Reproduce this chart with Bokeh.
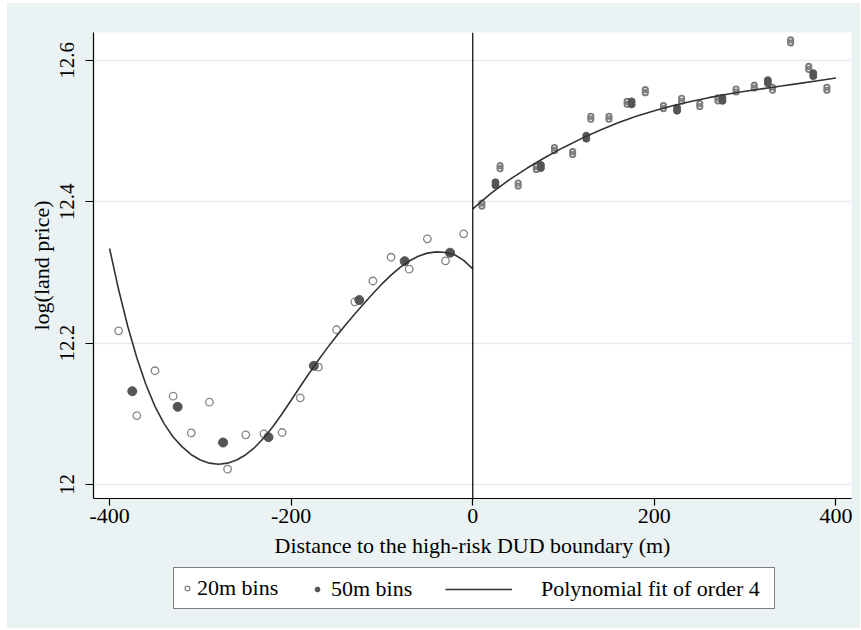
from bokeh.plotting import figure
from bokeh.layouts import column
from bokeh.models import Range1d, Span, Legend, LegendItem, FixedTicker, ColumnDataSource
from bokeh.transform import dodge
from bokeh.embed import file_html
from bokeh.resources import INLINE

# ---- data ----
bin20_x_left = [-390, -370, -350, -330, -310, -290, -270, -250, -230, -210,
                -190, -170, -150, -130, -110, -90, -70, -50, -30, -10]
bin20_y_left = [12.2175, 12.0976, 12.161, 12.125, 12.073, 12.1165, 12.0217, 12.0703, 12.0717, 12.0736,
                12.1227, 12.166, 12.219, 12.2585, 12.288, 12.3216, 12.3047, 12.3477, 12.3165, 12.3547]
bin20_x_right = [10, 30, 50, 70, 90, 110, 130, 150, 170, 190,
                 210, 230, 250, 270, 290, 310, 330, 350, 370, 390]
bin20_y_right = [12.396, 12.449, 12.4245, 12.448, 12.4745, 12.469, 12.519, 12.519, 12.540, 12.5566,
                 12.534, 12.5444, 12.537, 12.545, 12.5575, 12.563, 12.56, 12.627, 12.5896, 12.56]

bin50_x_left = [-375, -325, -275, -225, -175, -125, -75, -25]
bin50_y_left = [12.132, 12.110, 12.0594, 12.067, 12.168, 12.261, 12.316, 12.328]
bin50_x_right = [25, 75, 125, 175, 225, 275, 325, 375]
bin50_y_right = [12.4255, 12.45, 12.4915, 12.540, 12.531, 12.545, 12.570, 12.580]

# fitted curves, every 10 m (left) / 20 m (right)
fit_x_left = [-400, -390, -380, -370, -360, -350, -340, -330, -320, -310, -300, -290, -280,
              -270, -260, -250, -240, -230, -220, -210, -200, -190, -180, -170, -160, -150,
              -140, -130, -120, -110, -100, -90, -80, -70, -60, -50, -40, -30, -20, -10, 0]
fit_y_left = [12.334, 12.2755, 12.224, 12.1795, 12.1415, 12.1105, 12.0862, 12.0672, 12.0532, 12.0422,
              12.0347, 12.0302, 12.0287, 12.0302, 12.0347, 12.0422, 12.0527, 12.0662, 12.0822, 12.1002,
              12.1193, 12.1387, 12.1578, 12.1762, 12.1937, 12.2102, 12.226, 12.2413, 12.2558, 12.2703,
              12.2838, 12.2963, 12.3073, 12.3163, 12.3231, 12.3274, 12.3292, 12.3284, 12.3251, 12.3171,
              12.3051]
fit_x_right = [0, 20, 40, 60, 80, 100, 120, 140, 160, 180, 200,
               220, 240, 260, 280, 300, 320, 340, 360, 380, 400]
fit_y_right = [12.390, 12.412, 12.431, 12.4478, 12.463, 12.477, 12.4898, 12.5014, 12.5118, 12.521, 12.529,
               12.536, 12.542, 12.5474, 12.5522, 12.5564, 12.5602, 12.5638, 12.5676, 12.5714, 12.5752]

x_ticks = [-400, -200, 0, 200, 400]
x_tick_labels = ["-400", "-200", "0", "200", "400"]
y_ticks = [12.0, 12.2, 12.4, 12.6]
y_tick_labels = ["12", "12.2", "12.4", "12.6"]

FONT = "Liberation Serif"
FS = "22px"
BG = "#EAF2F3"

# ---------------- main plot ----------------
p = figure(width=853, height=562,
           x_range=Range1d(-417.7, 417.1), y_range=Range1d(11.9802, 12.6396),
           output_backend="svg", toolbar_location=None,
           min_border_left=86, min_border_right=9, min_border_top=29, min_border_bottom=67,
           background_fill_color="white", border_fill_color=BG, outline_line_color=None)
p.margin = 0

p.xgrid.visible = False
p.ygrid.ticker = FixedTicker(ticks=y_ticks)
p.ygrid.grid_line_color = "#E2EBEE"
p.ygrid.grid_line_width = 1.5

p.xaxis.ticker = FixedTicker(ticks=x_ticks)
p.yaxis.ticker = FixedTicker(ticks=y_ticks)
p.xaxis.major_label_overrides = {t: l for t, l in zip(x_ticks, x_tick_labels)}
p.yaxis.major_label_overrides = {t: l for t, l in zip(y_ticks, y_tick_labels)}
for ax in (p.xaxis, p.yaxis):
    ax.minor_tick_line_color = None
    ax.major_tick_in = 0
    ax.axis_line_color = "black"
    ax.axis_line_width = 1.2
    ax.major_tick_line_color = "black"
    ax.major_tick_line_width = 1.2
    ax.major_label_text_font = FONT
    ax.major_label_text_font_size = FS
    ax.major_label_text_color = "black"
    ax.axis_label_text_font = FONT
    ax.axis_label_text_font_size = FS
    ax.axis_label_text_font_style = "normal"
    ax.axis_label_text_color = "black"
p.yaxis.major_label_text_font_size = "21px"
p.xaxis.major_tick_out = 7
p.yaxis.major_tick_out = 8
p.xaxis.major_label_standoff = 3
p.yaxis.major_label_standoff = 11
p.yaxis.major_label_orientation = "vertical"
p.xaxis.axis_label = "Distance to the high-risk DUD boundary (m)"
p.yaxis.axis_label = "log(land price)"
p.xaxis.axis_label_standoff = 7
p.yaxis.axis_label_standoff = 4

p.add_layout(Span(location=0, dimension="height", line_color="black", line_width=1.2))

style20 = dict(fill_color="white", line_color="#858585", line_width=1.3)
style50 = dict(fill_color="#555555", line_color="#555555", line_width=1)
stylefit = dict(line_color="#333333", line_width=1.6)

src20R = ColumnDataSource(data=dict(x=bin20_x_right, y=bin20_y_right))
src50R = ColumnDataSource(data=dict(x=bin50_x_right, y=bin50_y_right))
STACK = 0.0021  # markers on the right side appear doubled (stacked) in the reference

p.scatter(bin20_x_left, bin20_y_left, marker="circle", size=7.5, **style20)
for d in (-STACK, STACK):
    p.scatter(x="x", y=dodge("y", d), source=src20R, marker="circle", size=5.3,
              fill_alpha=0, line_color="#7c7c7c", line_width=1.9)
p.scatter(bin50_x_left, bin50_y_left, marker="circle", size=9, **style50)
for d in (-STACK, STACK):
    p.scatter(x="x", y=dodge("y", d), source=src50R, marker="circle", size=7, **style50)
p.line(fit_x_left, fit_y_left, **stylefit)
p.line(fit_x_right, fit_y_right, **stylefit)

# ---------------- legend strip (same series, ranges chosen so only the key shows) ----------------
p2 = figure(width=853, height=63, x_range=Range1d(1000, 2000), y_range=Range1d(1000, 2000),
            x_axis_type=None, y_axis_type=None,
            output_backend="svg", toolbar_location=None,
            min_border_left=86, min_border_right=9, min_border_top=0, min_border_bottom=0,
            background_fill_color=BG, border_fill_color=BG, outline_line_color=None)
p2.margin = 0
p2.grid.visible = False
k20 = p2.scatter(bin20_x_left, bin20_y_left, marker="circle", size=7.5, **style20)
k50 = p2.scatter(bin50_x_left, bin50_y_left, marker="circle", size=9, **style50)
kfit = p2.line(fit_x_left, fit_y_left, **stylefit)

common = dict(orientation="horizontal", padding=7, margin=0, label_height=26, glyph_height=26,
              label_text_font=FONT, label_text_font_size=FS, label_text_color="black")
legA = Legend(items=[LegendItem(label="20m bins", renderers=[k20])], location=(80, 19),
              glyph_width=12, label_standoff=4, label_width=570,
              border_line_color="black", border_line_width=1.2,
              background_fill_color="white", background_fill_alpha=1, **common)
legB = Legend(items=[LegendItem(label="50m bins", renderers=[k50])], location=(218, 26),
              glyph_width=12, label_standoff=8,
              border_line_color=None, background_fill_alpha=0, **common)
legC = Legend(items=[LegendItem(label="Polynomial fit of order 4", renderers=[kfit])], location=(352, 26),
              glyph_width=67, label_standoff=29,
              border_line_color=None, background_fill_alpha=0, **common)
for lg in (legA, legB, legC):
    p2.add_layout(lg)

layout = column(p, p2, spacing=0)
layout.margin = (3, 1, 2, 7)
layout.styles = {"background-color": BG}
open("out.html", "w").write(file_html(layout, INLINE))
